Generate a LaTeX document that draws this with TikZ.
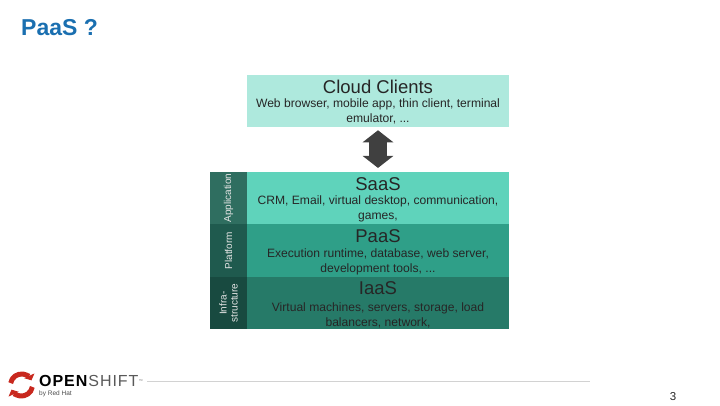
\documentclass[tikz,border=0pt]{standalone}
\usepackage{fontspec}
\setmainfont{Liberation Sans}
\usetikzlibrary{arrows.meta}
\definecolor{titleblue}{HTML}{1A6FB0}
\definecolor{cloudfill}{HTML}{AEE9DD}
\definecolor{saasfill}{HTML}{5FD3BB}
\definecolor{paasfill}{HTML}{2F9F88}
\definecolor{iaasfill}{HTML}{267A68}
\definecolor{saasside}{HTML}{2F6E60}
\definecolor{paasside}{HTML}{1F5A4E}
\definecolor{iaasside}{HTML}{184A40}
\definecolor{arrowgray}{HTML}{404040}
\definecolor{rulegray}{HTML}{D2D2D2}
\definecolor{logored}{HTML}{C8281E}
\newcommand{\fsz}[1]{\fontsize{#1}{#1}\selectfont}

\begin{document}
\begin{tikzpicture}[x=1pt,y=-1pt,
    tierbox/.style={inner sep=0pt,outer sep=0pt,minimum width=262pt,minimum height=52.5pt},
    sidebox/.style={inner sep=0pt,outer sep=0pt,minimum width=52.5pt,minimum height=37pt,rotate=90,
      align=center,text=white!90!black,font=\fsz{10}},
    tiername/.style={inner sep=0pt,text=black!85,font=\fsz{18.5}},
    tiertext/.style={inner sep=0pt,align=center,font=\fsz{12.1},text=black!85}]
  \useasboundingbox (0,0) rectangle (720,405); % page frame
  \node[inner sep=0pt,anchor=west,text=titleblue,font=\bfseries\fsz{23}] (title) at (21,27.5) {PaaS ?}; % slide title

  \node[tierbox,fill=cloudfill] (cloud) at (378,101) {}; % top box
  \node[tierbox,fill=saasfill] (saas) at (378,198.2) {}; % application layer
  \node[tierbox,fill=paasfill] (paas) at (378,250.7) {}; % platform layer
  \node[tierbox,fill=iaasfill] (iaas) at (378,303.2) {}; % infrastructure layer

  \node[sidebox,fill=saasside] (saasleft) at (228.5,198.2) {Application};
  \node[sidebox,fill=paasside] (paasleft) at (228.5,250.7) {Platform};
  \node[sidebox,fill=iaasside] (iaasleft) at (228.5,303.2) {Infra-\\[1pt]structure};

  \node[tiername] (cloudname) at (378,87) {Cloud Clients};
  \node[tiertext] (cloudtext) at (378,111.3) {Web browser, mobile app, thin client, terminal\\[3pt]emulator, ...};
  \node[tiername] (saasname) at (378,184) {SaaS};
  \node[tiertext] (saastext) at (378,209) {CRM, Email, virtual desktop, communication,\\[3pt]games,};
  \node[tiername] (paasname) at (378,236) {PaaS};
  \node[tiertext] (paastext) at (378,262) {Execution runtime, database, web server,\\[3pt]development tools, ...};
  \node[tiername] (iaasname) at (378,288.5) {IaaS};
  \node[tiertext] (iaastext) at (378,315) {Virtual machines, servers, storage, load\\[3pt]balancers, network,};

  \draw[arrowgray,line width=18pt,{Triangle[length=12pt,width=30pt]}-{Triangle[length=12pt,width=30pt]},
    shorten <=3pt,shorten >=4pt] (cloud) -- (saas); % thick double arrow

  \draw[logored,line width=5pt,-{Triangle[length=5pt,width=11pt]}] (21.5,385) ++(190:11) arc (190:335:11); % logo upper half
  \draw[logored,line width=5pt,-{Triangle[length=5pt,width=11pt]}] (21.5,385) ++(10:11) arc (10:155:11); % logo lower half
  \node[inner sep=0pt,anchor=west,font=\fsz{16}] (logoword) at (39,381) {\addfontfeature{LetterSpace=6}\textbf{OPEN}\textcolor{black!65}{SHIFT}};
  \node[inner sep=0pt,anchor=west,text=black!70,font=\fsz{6.5}] (logoby) at (39,394) {by Red Hat};
  \node[inner sep=0pt,anchor=west,text=black!60,font=\fsz{4}] (logotm) at (logoword.east) {™};

  \coordinate (rulestart) at (147,381);
  \coordinate (ruleend) at (590,381);
  \draw[rulegray,line width=0.8pt] (rulestart) -- (ruleend); % footer rule
  \node[inner sep=0pt,text=black!85,font=\fsz{11.5}] (pagenum) at (673,397) {3};
\end{tikzpicture}
\end{document}
